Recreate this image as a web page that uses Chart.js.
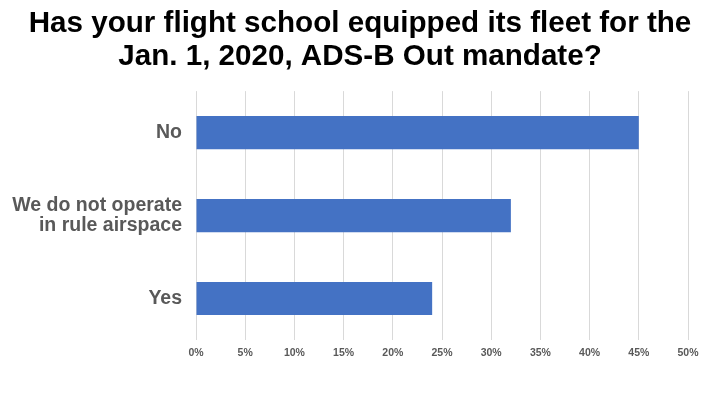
<!DOCTYPE html>
<html>
<head>
<meta charset="utf-8">
<script src="https://cdn.jsdelivr.net/npm/chart.js@4"></script>
<style>
html,body{margin:0;padding:0;background:#fff;}
#wrap{width:720px;height:405px;}
</style>
</head>
<body>
<div id="wrap"><canvas id="c" width="720" height="405"></canvas></div>
<script>
const categories = [["No"], ["We do not operate", "in rule airspace"], ["Yes"]];
const values = [45, 32, 24];
const tickValues = [0, 5, 10, 15, 20, 25, 30, 35, 40, 45, 50];
const titleLines = ["Has your flight school equipped its fleet for the", "Jan. 1, 2020, ADS-B Out mandate?"];

new Chart(document.getElementById('c'), {
  type: 'bar',
  data: {
    labels: categories,
    datasets: [{
      data: values,
      backgroundColor: '#4472c4',
      borderWidth: 0,
      categoryPercentage: 0.8,
      barPercentage: 0.5
    }]
  },
  options: {
    indexAxis: 'y',
    responsive: false,
    animation: false,
    layout: { padding: { left: 0, right: 0, top: 0, bottom: 40 } },
    plugins: {
      legend: { display: false },
      tooltip: { enabled: false },
      title: {
        display: true,
        text: titleLines,
        color: '#000',
        font: { family: 'Liberation Sans, Arial, sans-serif', size: 29.6, weight: 'bold', lineHeight: 1.1 },
        padding: { top: 8, bottom: 18 }
      }
    },
    scales: {
      x: {
        min: 0,
        max: 50,
        afterBuildTicks: (s) => { s.ticks = tickValues.map(v => ({ value: v })); },
        afterFit: (s) => { s.height = 25; s.paddingRight = 32; },
        grid: { color: '#d9d9d9', lineWidth: 1, drawTicks: false },
        border: { display: false },
        ticks: {
          color: '#595959',
          font: { family: 'Liberation Sans, Arial, sans-serif', size: 10.5, weight: 'bold' },
          padding: 7,
          callback: (v) => v + '%'
        }
      },
      y: {
        grid: { display: false },
        border: { display: false },
        afterFit: (s) => { s.width = 196; },
        ticks: {
          color: '#595959',
          font: { family: 'Liberation Sans, Arial, sans-serif', size: 19.5, weight: 'bold', lineHeight: 1.0 },
          padding: 6
        }
      }
    }
  }
});
</script>
</body>
</html>
